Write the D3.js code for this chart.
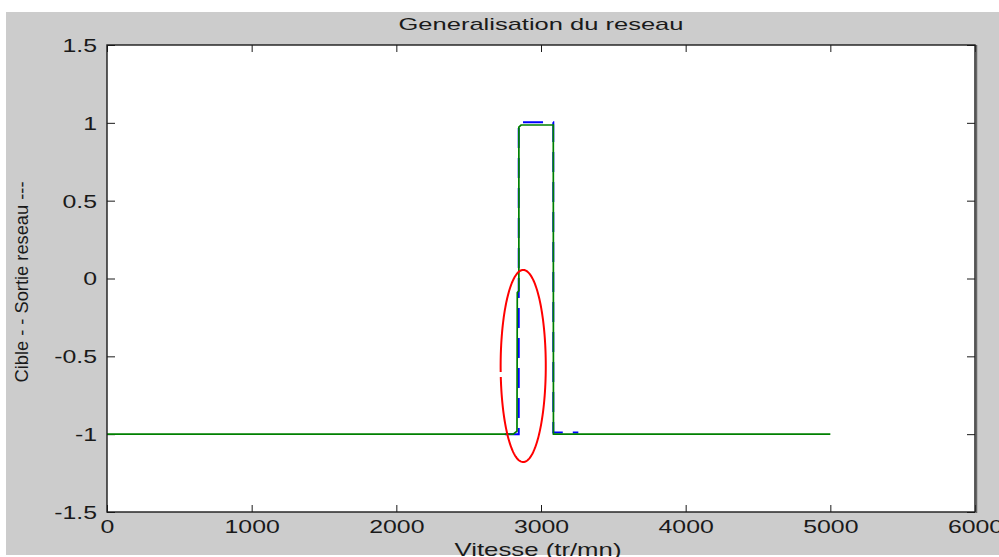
<!DOCTYPE html>
<html>
<head>
<meta charset="utf-8">
<script src="https://cdn.jsdelivr.net/npm/d3@7"></script>
<style>
  html, body { margin: 0; padding: 0; background: #ffffff; }
  svg { display: block; }
  text { font-family: "Liberation Sans", Arial, sans-serif; fill: #1a1a1a; }
</style>
</head>
<body>
<svg id="chart" width="999" height="557"></svg>
<script>
// ---- data ----
const titre = "Generalisation du reseau";
const xLabel = "Vitesse (tr/mn)";
const yLabel = "Cible - -   Sortie reseau ---";

const xTicks = [0, 1000, 2000, 3000, 4000, 5000, 6000];
const xTickLabels = ["0", "1000", "2000", "3000", "4000", "5000", "6000"];
const yTicks = [-1.5, -1, -0.5, 0, 0.5, 1, 1.5];
const yTickLabels = ["-1.5", "-1", "-0.5", "0", "0.5", "1", "1.5"];

// target (blue, dashed)
const cibleVitesse = [2750, 2846, 2846, 3085, 3085, 3258];
const cibleValeur  = [-1, -1, 1.003, 1.003, -0.99, -0.99];

// network output (green)
const sortieVitesse = [0, 2808, 2834, 2836, 2847, 2847, 2862, 3085, 3086, 5000];
const sortieValeur  = [-1, -1, -0.98, -0.09, -0.08, 0.973, 0.986, 0.986, -1, -1];

// red annotation ellipse (data units)
const ellipseCentre = [2877, -0.562];
const ellipseRayons = [156, 0.617];
const ellipseAngles = [3.079, 3.027 + 2 * Math.PI];

// ---- drawing ----
const svg = d3.select("#chart");
const W = 999, H = 557;
const m = { left: 107, right: 975, top: 45, bottom: 512 };

svg.append("rect").attr("x", 0).attr("y", 0).attr("width", W).attr("height", H).attr("fill", "#ffffff");
svg.append("rect").attr("x", 6).attr("y", 12).attr("width", W - 6).attr("height", 543).attr("fill", "#cccccc");

const x = d3.scaleLinear().domain([0, 6000]).range([m.left, m.right]);
const y = d3.scaleLinear().domain([-1.5, 1.5]).range([m.bottom, m.top]);

svg.append("rect")
  .attr("x", m.left).attr("y", m.top)
  .attr("width", m.right - m.left).attr("height", m.bottom - m.top)
  .attr("fill", "#ffffff");

const stretch = 1.38;
function widen(sel, k) {
  sel.each(function () {
    const w = this.getComputedTextLength();
    d3.select(this).attr("textLength", w * k).attr("lengthAdjust", "spacingAndGlyphs");
  });
}

// axes
const gx = svg.append("g").attr("transform", `translate(0,${m.bottom})`)
  .call(d3.axisBottom(x).tickValues(xTicks).tickFormat((d, i) => xTickLabels[i])
        .tickSizeInner(-7).tickSizeOuter(0).tickPadding(8));
const gy = svg.append("g").attr("transform", `translate(${m.left},0)`)
  .call(d3.axisLeft(y).tickValues(yTicks).tickFormat((d, i) => yTickLabels[i])
        .tickSizeInner(-8).tickSizeOuter(0).tickPadding(10));
const gxt = svg.append("g").attr("transform", `translate(0,${m.top})`)
  .call(d3.axisTop(x).tickValues(xTicks).tickFormat("").tickSizeInner(-7).tickSizeOuter(0));
const gyr = svg.append("g").attr("transform", `translate(${m.right},0)`)
  .call(d3.axisRight(y).tickValues(yTicks).tickFormat("").tickSizeInner(-8).tickSizeOuter(0));

[gx, gy, gxt, gyr].forEach(g => {
  g.select(".domain").remove();
  g.selectAll(".tick line").attr("stroke", "#1a1a1a").attr("stroke-width", 1);
  g.selectAll(".tick text").attr("font-size", 18).attr("fill", "#1a1a1a")
    .attr("font-family", "'Liberation Sans', Arial, sans-serif");
});
gy.selectAll(".tick text").attr("dy", "0.36em");
widen(gx.selectAll(".tick text"), stretch);
widen(gy.selectAll(".tick text"), stretch);

// lines
const clip = svg.append("clipPath").attr("id", "clip").append("rect")
  .attr("x", m.left).attr("y", m.top).attr("width", m.right - m.left).attr("height", m.bottom - m.top);
const plot = svg.append("g").attr("clip-path", "url(#clip)");
const line = d3.line().x(d => x(d[0])).y(d => y(d[1])).curve(d3.curveLinear);

const cible = cibleVitesse.map((v, i) => [v, cibleValeur[i]]);
const sortie = sortieVitesse.map((v, i) => [v, sortieValeur[i]]);

plot.append("path").datum(cible).attr("d", line)
  .attr("fill", "none").attr("stroke", "#0000ff").attr("stroke-width", 2)
  .attr("stroke-dasharray", "20,10");
plot.append("path").datum(sortie).attr("d", line)
  .attr("fill", "none").attr("stroke", "#008000").attr("stroke-width", 1.7);

// ellipse annotation
const nPts = 200;
const ell = d3.range(nPts + 1).map(i => {
  const t = ellipseAngles[0] + (ellipseAngles[1] - ellipseAngles[0]) * i / nPts;
  return [ellipseCentre[0] + ellipseRayons[0] * Math.cos(t), ellipseCentre[1] - ellipseRayons[1] * Math.sin(t)];
});
plot.append("path").datum(ell).attr("d", line)
  .attr("fill", "none").attr("stroke", "#ff0000").attr("stroke-width", 2);

// box
svg.append("rect")
  .attr("x", m.left).attr("y", m.top)
  .attr("width", m.right - m.left).attr("height", m.bottom - m.top)
  .attr("fill", "none").attr("stroke", "#1a1a1a").attr("stroke-width", 1.4);
svg.append("line").attr("x1", m.right + 1.5).attr("x2", m.right + 1.5)
  .attr("y1", m.top).attr("y2", m.bottom + 1).attr("stroke", "#666").attr("stroke-width", 1.5);

// title & labels
const t = svg.append("text").attr("x", (m.left + m.right) / 2).attr("y", 30)
  .attr("text-anchor", "middle").attr("font-size", 17).text(titre);
t.attr("textLength", 285).attr("lengthAdjust", "spacingAndGlyphs");

svg.append("text").attr("x", 538).attr("y", 556)
  .attr("text-anchor", "middle").attr("font-size", 19).text(xLabel)
  .attr("textLength", 167).attr("lengthAdjust", "spacingAndGlyphs");

svg.append("text").attr("transform", "translate(28,282) rotate(-90)")
  .attr("text-anchor", "middle").attr("font-size", 19).text(yLabel)
  .attr("textLength", 201).attr("lengthAdjust", "spacingAndGlyphs");
</script>
</body>
</html>
